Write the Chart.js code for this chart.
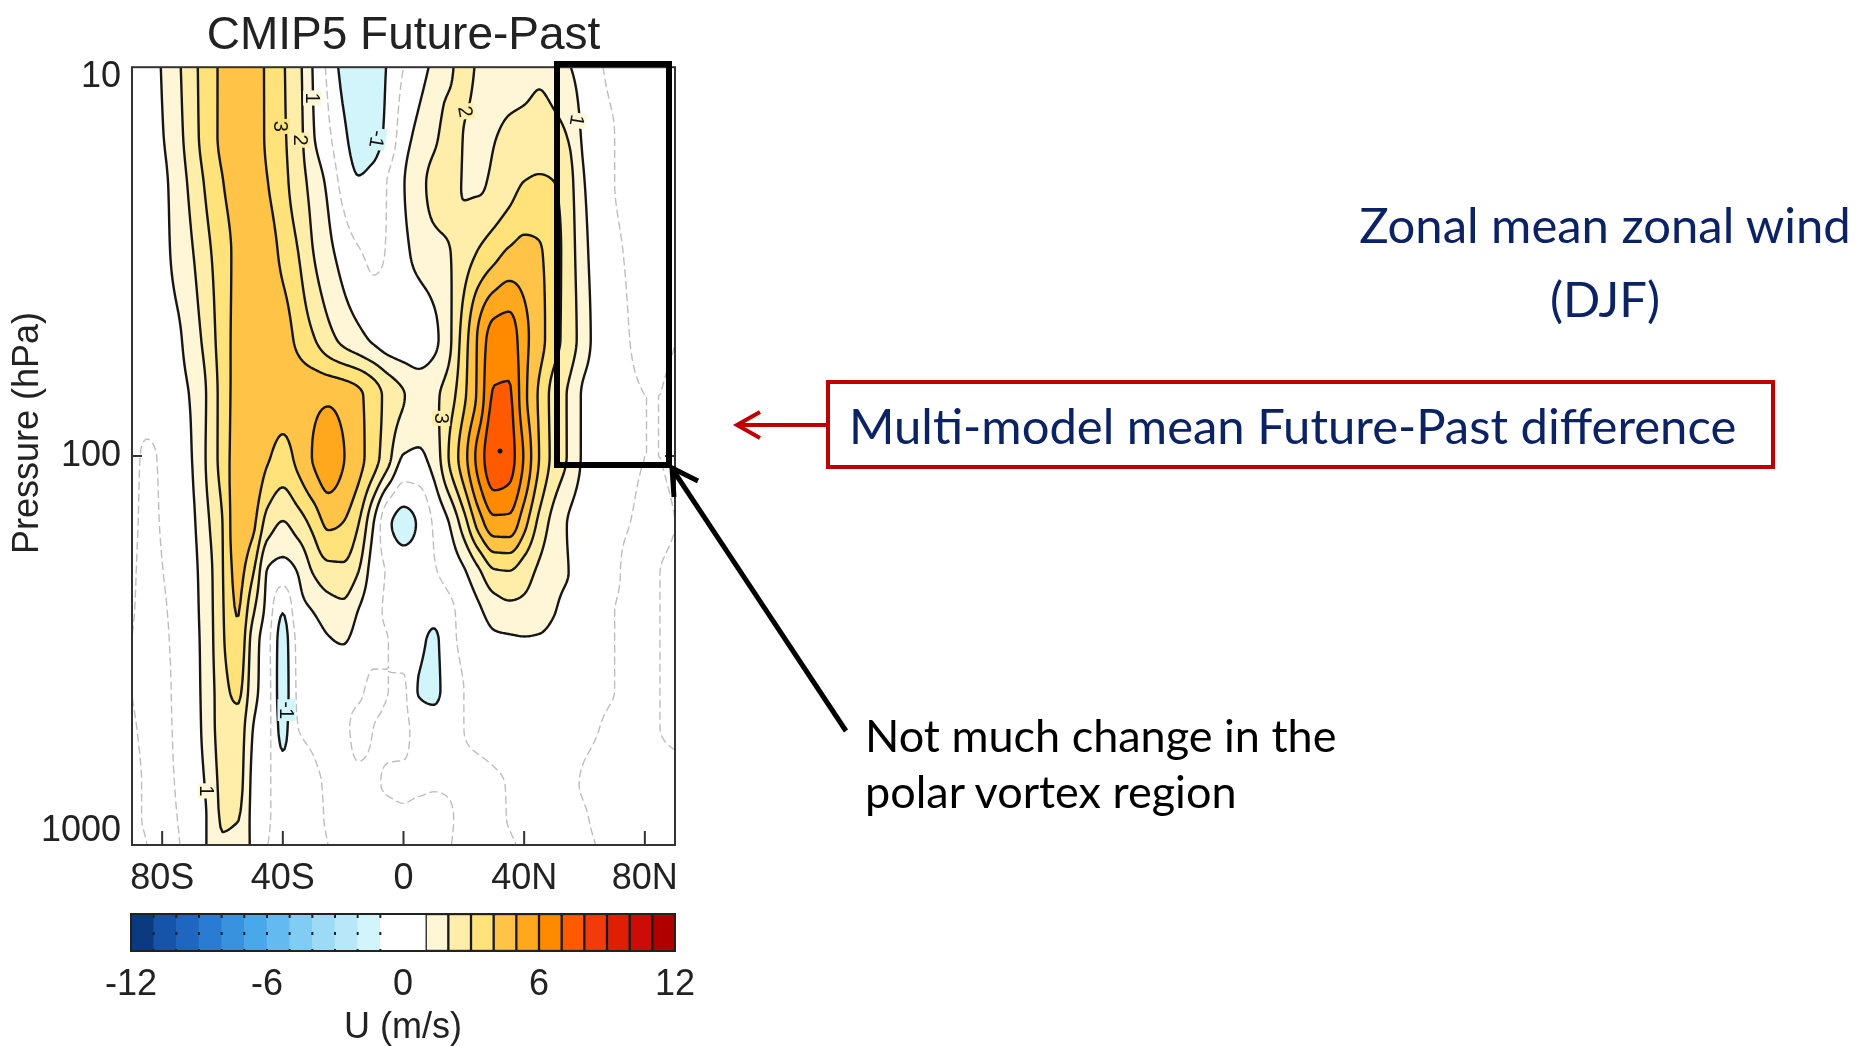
<!DOCTYPE html>
<html>
<head>
<meta charset="utf-8">
<title>CMIP5 Future-Past zonal mean zonal wind (DJF)</title>
<script src="https://cdn.jsdelivr.net/npm/chart.js@4.4.1/dist/chart.umd.min.js"></script>
<style>
  html, body { margin: 0; padding: 0; background: #fff; }
  body { width: 1860px; height: 1046px; position: relative; overflow: hidden; }
  #main { position: absolute; left: 0; top: 0; width: 720px; height: 900px; }
  #cbar { position: absolute; left: 0; top: 900px; width: 720px; height: 146px; }
  #notes { position: absolute; left: 0; top: 0; pointer-events: none; }
  .note { position: absolute; font-family: Lato, 'Open Sans', sans-serif; white-space: nowrap; }
  .navy { color: #0b2265; }
</style>
</head>
<body>
<div id="main"><canvas id="windChart"></canvas></div>
<div id="cbar"><canvas id="barChart"></canvas></div>

<svg id="notes" width="1860" height="1046">
  <rect x="557" y="64" width="112" height="401" fill="none" stroke="#000" stroke-width="6"/>
  <line x1="846" y1="731" x2="673" y2="470" stroke="#000" stroke-width="5"/>
  <polyline points="674,497 672,468 698,481" fill="none" stroke="#000" stroke-width="5" stroke-linejoin="miter"/>
  <rect x="828" y="382" width="945" height="85" fill="none" stroke="#c00000" stroke-width="4"/>
  <line x1="828" y1="425" x2="739" y2="425" stroke="#c00000" stroke-width="4"/>
  <polyline points="760,412 737,425 760,438" fill="none" stroke="#c00000" stroke-width="4"/>
</svg>
<div class="note navy" style="left:1305px; top:187px; width:600px; text-align:center; font-size:49px; line-height:74px;">Zonal mean zonal wind<br>(DJF)</div>
<div class="note navy" style="left:849px; top:395px; font-size:49px; line-height:60px;">Multi-model mean Future-Past difference</div>
<div class="note" style="left:865px; top:707px; font-size:45px; line-height:56px; color:#000;">Not much change in the<br>polar vortex region</div>

<script>
// grid: latitude (deg) x pressure (hPa)
const lats = [-90, -85, -80, -75, -70, -65, -60, -55, -50, -45, -40, -35, -30, -25, -20, -15, -10, -5, 0,
  5, 10, 15, 20, 25, 30, 35, 40, 45, 50, 55, 60, 65, 70, 75, 80, 85, 90];
const levels = [10, 15, 20, 30, 50, 70, 100, 150, 200, 250, 300, 400, 500, 700, 850, 1000];

// U difference (m/s), one row per pressure level, lat -90 .. 90
const u10 = [0.3, 0.6, 1.05, 1.8, 2.7, 3.5, 4.2, 4.6, 4.5, 3.8, 3.1, 2.3, 0.95, -0.2, -1.25, -1.5, -1.4, -0.9, 0.0, 0.6, 1.2, 1.8, 2.3, 1.85, 1.55, 1.5, 1.6, 1.8, 1.55, 1.05, 0.5, 0.05, -0.1, -0.1, -0.1, -0.05, 0.0];
const u15 = [0.35, 0.6, 0.95, 1.65, 2.6, 3.5, 4.2, 4.6, 4.55, 3.8, 3.15, 2.4, 1.1, 0.2, -0.8, -1.35, -1.3, -0.7, 0.6, 1.25, 1.8, 2.3, 1.98, 1.75, 1.95, 2.2, 2.35, 2.45, 2.3, 1.9, 0.75, 0.2, 0.0, -0.1, -0.1, -0.05, 0.0];
const u20 = [0.4, 0.6, 0.8, 1.45, 2.3, 3.2, 3.95, 4.5, 4.6, 4.02, 3.3, 2.5, 1.65, 0.8, -0.3, -0.9, -0.7, 0.1, 0.95, 1.65, 2.25, 2.4, 1.95, 1.9, 2.2, 2.6, 3.05, 3.15, 3.02, 2.3, 1.02, 0.3, 0.0, -0.1, -0.1, -0.05, 0.0];
const u30 = [0.4, 0.6, 0.75, 1.3, 1.95, 2.8, 3.55, 4.25, 4.55, 4.4, 3.75, 3.02, 2.02, 1.3, 0.6, 0.1, -0.2, 0.1, 0.75, 1.3, 1.7, 1.95, 2.5, 3.1, 3.65, 4.15, 4.3, 4.1, 3.4, 2.45, 1.25, 0.4, 0.1, -0.05, -0.1, -0.05, 0.0];
const u50 = [0.3, 0.5, 0.6, 0.85, 1.5, 2.4, 3.5, 4.3, 4.55, 4.5, 4.35, 3.8, 3.1, 2.35, 1.75, 1.3, 0.85, 0.5, 0.4, 0.3, 0.75, 1.75, 3.5, 5.2, 6.5, 6.6, 5.3, 4.4, 3.35, 2.5, 1.45, 0.5, 0.2, 0.0, -0.1, -0.05, 0.0];
const u70 = [0.3, 0.4, 0.5, 0.75, 1.1, 2.1, 3.4, 4.35, 4.55, 4.45, 4.3, 4.45, 4.7, 4.8, 4.6, 4.2, 3.5, 2.65, 2.05, 1.6, 1.8, 2.5, 3.8, 5.3, 7.1, 7.1, 5.3, 3.85, 2.6, 1.85, 0.8, 0.4, 0.15, 0.05, 0.0, 0.0, 0.05];
const u100 = [0.2, -0.1, 0.1, 0.5, 1.02, 2.15, 3.4, 4.45, 4.6, 4.1, 3.7, 4.25, 5.05, 5.55, 5.05, 4.35, 3.45, 2.3, 0.95, 0.85, 1.4, 3.02, 4.6, 6.4, 7.7, 7.4, 5.9, 3.98, 2.65, 1.85, 0.8, 0.4, 0.15, 0.05, 0.0, 0.0, 0.05];
const u150 = [0.15, -0.15, 0.05, 0.45, 0.85, 1.85, 3.0, 4.6, 4.2, 2.5, 1.9, 2.45, 3.25, 4.15, 3.95, 3.02, 1.02, -0.85, -1.3, -0.9, 0.1, 0.95, 2.5, 4.4, 5.6, 5.6, 4.3, 2.7, 1.6, 0.9, 0.4, 0.15, 0.05, 0.0, -0.05, -0.05, 0.0];
const u200 = [0.1, -0.2, -0.02, 0.35, 0.75, 1.6, 2.95, 4.3, 3.1, 0.9, 0.5, 1.02, 2.02, 2.6, 2.7, 1.98, 0.5, -0.1, -0.4, -0.4, -0.1, 0.3, 0.85, 1.8, 2.8, 2.9, 2.4, 1.8, 1.3, 0.98, 0.5, 0.2, 0.05, -0.05, -0.05, 0.0, 0.05];
const u250 = [0.05, -0.2, -0.1, 0.3, 0.7, 1.55, 2.9, 4.05, 2.2, 0.6, -0.95, 0.6, 1.02, 1.5, 1.7, 0.98, 0.3, -0.1, -0.1, -0.3, -0.6, -0.2, 0.3, 0.85, 1.45, 1.7, 1.7, 1.5, 1.05, 0.6, 0.3, 0.1, 0.0, -0.05, -0.05, 0.0, 0.05];
const u300 = [0.0, -0.2, -0.15, 0.25, 0.65, 1.5, 2.85, 3.8, 1.6, 0.3, -1.4, 0.2, 0.5, 0.9, 1.05, 0.6, 0.2, 0.0, -0.2, -0.7, -1.2, -0.3, 0.2, 0.5, 0.8, 0.85, 0.9, 0.85, 0.6, 0.4, 0.2, 0.1, 0.0, -0.05, -0.05, 0.0, 0.05];
const u400 = [0.0, -0.15, -0.2, 0.2, 0.6, 1.45, 2.6, 3.25, 1.4, 0.35, -1.5, 0.1, 0.2, 0.4, 0.3, 0.1, -0.1, 0.0, 0.1, -1.05, -1.25, -0.5, 0.0, 0.2, 0.3, 0.4, 0.4, 0.3, 0.2, 0.15, 0.1, 0.05, 0.0, -0.05, -0.05, 0.0, 0.05];
const u500 = [0.05, -0.1, -0.2, 0.15, 0.55, 1.4, 2.45, 2.6, 1.02, 0.3, -1.3, 0.0, 0.1, 0.2, 0.1, -0.1, 0.0, 0.1, 0.15, -0.3, -0.4, -0.2, 0.0, 0.1, 0.15, 0.2, 0.2, 0.15, 0.1, 0.1, 0.05, 0.0, -0.05, -0.05, -0.05, 0.0, 0.05];
const u700 = [0.1, -0.05, -0.15, 0.05, 0.5, 1.15, 2.25, 2.35, 0.8, 0.15, -0.5, -0.3, -0.1, 0.05, 0.1, 0.1, 0.05, -0.05, -0.1, -0.1, -0.05, -0.05, -0.1, -0.1, -0.05, 0.02, 0.1, 0.15, 0.15, 0.05, -0.02, -0.05, -0.1, -0.1, -0.1, -0.1, -0.1];
const u850 = [0.1, -0.05, -0.15, 0.0, 0.45, 1.05, 2.1, 2.05, 0.75, 0.1, -0.3, -0.3, -0.15, 0.05, 0.15, 0.2, 0.15, 0.15, 0.1, 0.15, 0.15, 0.05, -0.1, -0.15, -0.1, 0.02, 0.1, 0.15, 0.15, 0.1, 0.02, -0.05, -0.1, -0.1, -0.1, -0.1, -0.1];
const u1000 = [0.15, 0.0, -0.2, -0.05, 0.4, 1.05, 1.9, 1.75, 0.8, 0.0, -0.25, -0.3, -0.2, 0.0, 0.15, 0.2, 0.2, 0.2, 0.2, 0.15, 0.1, 0.02, -0.1, -0.15, -0.15, -0.05, 0.05, 0.1, 0.15, 0.1, 0.05, -0.02, -0.1, -0.1, -0.1, -0.1, -0.1];
const uRows = [u10, u15, u20, u30, u50, u70, u100, u150, u200, u250, u300, u400, u500, u700, u850, u1000];

const latTicks = [-80, -40, 0, 40, 80];
const pTicks = [10, 100, 1000];
const jetMax = [{ x: 32, y: 97 }];

// contour labels: lat, pressure, text, rotation (deg)
const contourLabels = [
  { lat: -40.7, p: 14.2, text: '3', rot: 90 },
  { lat: -34.1, p: 15.4, text: '2', rot: 90 },
  { lat: -30.3, p: 12.0, text: '1', rot: 90 },
  { lat: -8.8, p: 15.3, text: '-1', rot: 100 },
  { lat: 20.5, p: 13.0, text: '2', rot: 80 },
  { lat: 57.5, p: 13.7, text: '1', rot: 100 },
  { lat: 12.5, p: 80, text: '3', rot: 90 },
  { lat: -38.8, p: 450, text: '-1', rot: 90 },
  { lat: -65.2, p: 726, text: '1', rot: 90 }
];

// colour scale, 1 m/s bands; white between -1 and 1
const posColors = ['#fff6d8', '#ffeeaa', '#ffe27a', '#ffc447', '#ffa81e', '#ff8a00', '#ff5a00', '#f23a0c', '#e01e06', '#cc0c06', '#b00000'];
const negColors = ['#d2f4fb', '#b8e8f8', '#9cdaf6', '#80ccf3', '#62baf0', '#48a8ea', '#3892e0', '#2a7cd2', '#1e66c0', '#1654aa', '#0c3a80'];
const cbEdges = [-12, -11, -10, -9, -8, -7, -6, -5, -4, -3, -2, -1, 1, 2, 3, 4, 5, 6, 7, 8, 9, 10, 11, 12];

Chart.defaults.font.family = "'Liberation Sans', Arial, sans-serif";
Chart.defaults.color = '#222';

const axisFont = { size: 36 };
const STEP = 2;

function hexRGB(h) {
  return [parseInt(h.slice(1, 3), 16), parseInt(h.slice(3, 5), 16), parseInt(h.slice(5, 7), 16)];
}
const posRGB = posColors.map(hexRGB);
const negRGB = negColors.map(hexRGB);
const WHITE = [255, 255, 255];

function bandRGB(v) {
  if (v >= 1) return posRGB[Math.min(10, Math.floor(v) - 1)];
  if (v <= -1) return negRGB[Math.min(10, Math.floor(-v) - 1)];
  return WHITE;
}
function bandColor(v) {
  const c = bandRGB(v);
  return `rgb(${c[0]},${c[1]},${c[2]})`;
}

// monotone cubic (pchip) helpers
function pchipSlopes(t, v) {
  const n = v.length, d = [], m = new Array(n);
  for (let i = 0; i < n - 1; i++) d.push((v[i + 1] - v[i]) / (t[i + 1] - t[i]));
  m[0] = d[0];
  m[n - 1] = d[n - 2];
  for (let i = 1; i < n - 1; i++) {
    if (d[i - 1] * d[i] <= 0) { m[i] = 0; continue; }
    const h0 = t[i] - t[i - 1], h1 = t[i + 1] - t[i];
    const w1 = 2 * h1 + h0, w2 = h1 + 2 * h0;
    m[i] = (w1 + w2) / (w1 / d[i - 1] + w2 / d[i]);
  }
  return m;
}
function findSeg(t, x) {
  let k = 0;
  while (k < t.length - 2 && x > t[k + 1]) k++;
  return k;
}
function hermite(t, v, m, k, x) {
  const h = t[k + 1] - t[k], s = (x - t[k]) / h, s2 = s * s, s3 = s2 * s;
  return (2 * s3 - 3 * s2 + 1) * v[k] + (s3 - 2 * s2 + s) * h * m[k] +
    (-2 * s3 + 3 * s2) * v[k + 1] + (s3 - s2) * h * m[k + 1];
}

function getField(chart) {
  const { chartArea: a, scales: { x, y } } = chart;
  const left = Math.round(a.left), top = Math.round(a.top);
  const w = Math.round(a.right) - left, h = Math.round(a.bottom) - top;
  const key = [left, top, w, h].join(',');
  if (chart.$uField && chart.$uField.key === key) return chart.$uField;

  const logLev = levels.map(Math.log10);
  const cols = lats.map((_, j) => uRows.map(r => r[j]));
  const colM = cols.map(c => pchipSlopes(logLev, c));
  const xLat = [], xSeg = [];
  for (let i = 0; i < w; i++) {
    const lat = Math.max(-90, Math.min(90, x.getValueForPixel(left + i + 0.5)));
    xLat.push(lat);
    xSeg.push(findSeg(lats, lat));
  }
  const field = new Float32Array(w * h);
  const row = new Array(lats.length);
  const lo = logLev[0], hi = logLev[logLev.length - 1];
  for (let r = 0; r < h; r++) {
    let lp = Math.log10(y.getValueForPixel(top + r + 0.5));
    lp = Math.max(lo, Math.min(hi, lp));
    const k = findSeg(logLev, lp);
    for (let j = 0; j < lats.length; j++) row[j] = hermite(logLev, cols[j], colM[j], k, lp);
    const m = pchipSlopes(lats, row);
    for (let i = 0; i < w; i++) field[r * w + i] = hermite(lats, row, m, xSeg[i], xLat[i]);
  }

  const img = document.createElement('canvas');
  img.width = w; img.height = h;
  const ictx = img.getContext('2d');
  const data = ictx.createImageData(w, h);
  for (let p = 0; p < w * h; p++) {
    const c = bandRGB(field[p]);
    data.data[4 * p] = c[0];
    data.data[4 * p + 1] = c[1];
    data.data[4 * p + 2] = c[2];
    data.data[4 * p + 3] = 255;
  }
  ictx.putImageData(data, 0, 0);

  const nx = Math.floor((w - 1) / STEP) + 1, ny = Math.floor((h - 1) / STEP) + 1;
  chart.$uField = { key, left, top, w, h, field, img, nx, ny };
  return chart.$uField;
}

// marching squares, chained into polylines
function traceLevel(g, level) {
  const { nx, ny } = g;
  const V = (i, j) => g.field[(j * STEP) * g.w + i * STEP];
  const pts = new Map(), segs = [];
  const hPt = (i, j) => {
    const k = 2 * (j * nx + i);
    if (!pts.has(k)) {
      const a = V(i, j), b = V(i + 1, j), t = (level - a) / (b - a);
      pts.set(k, [g.left + (i + t) * STEP + 0.5, g.top + j * STEP + 0.5]);
    }
    return k;
  };
  const vPt = (i, j) => {
    const k = 2 * (j * nx + i) + 1;
    if (!pts.has(k)) {
      const a = V(i, j), b = V(i, j + 1), t = (level - a) / (b - a);
      pts.set(k, [g.left + i * STEP + 0.5, g.top + (j + t) * STEP + 0.5]);
    }
    return k;
  };
  for (let j = 0; j < ny - 1; j++) {
    for (let i = 0; i < nx - 1; i++) {
      const a = V(i, j), b = V(i + 1, j), c = V(i + 1, j + 1), d = V(i, j + 1);
      const idx = (a > level ? 8 : 0) | (b > level ? 4 : 0) | (c > level ? 2 : 0) | (d > level ? 1 : 0);
      if (idx === 0 || idx === 15) continue;
      switch (idx) {
        case 1: case 14: segs.push([vPt(i, j), hPt(i, j + 1)]); break;
        case 2: case 13: segs.push([hPt(i, j + 1), vPt(i + 1, j)]); break;
        case 3: case 12: segs.push([vPt(i, j), vPt(i + 1, j)]); break;
        case 4: case 11: segs.push([hPt(i, j), vPt(i + 1, j)]); break;
        case 6: case 9: segs.push([hPt(i, j), hPt(i, j + 1)]); break;
        case 7: case 8: segs.push([vPt(i, j), hPt(i, j)]); break;
        default: {
          const mid = (a + b + c + d) / 4 > level;
          if ((idx === 5) === mid) {
            segs.push([vPt(i, j), hPt(i, j)]);
            segs.push([hPt(i, j + 1), vPt(i + 1, j)]);
          } else {
            segs.push([hPt(i, j), vPt(i + 1, j)]);
            segs.push([vPt(i, j), hPt(i, j + 1)]);
          }
        }
      }
    }
  }
  const adj = new Map();
  segs.forEach((s, n) => {
    for (const k of s) {
      if (!adj.has(k)) adj.set(k, []);
      adj.get(k).push(n);
    }
  });
  const used = new Uint8Array(segs.length);
  const walk = start => {
    const out = [];
    let key = start;
    for (;;) {
      let next = -1;
      for (const t of adj.get(key)) if (!used[t]) { next = t; break; }
      if (next < 0) break;
      used[next] = 1;
      const [p, q] = segs[next];
      key = p === key ? q : p;
      out.push(key);
    }
    return out;
  };
  const lines = [];
  for (let n = 0; n < segs.length; n++) {
    if (used[n]) continue;
    used[n] = 1;
    const fwd = walk(segs[n][1]);
    const back = walk(segs[n][0]).reverse();
    lines.push(back.concat(segs[n], fwd).map(k => pts.get(k)));
  }
  return lines;
}

function strokeLines(ctx, lines) {
  ctx.beginPath();
  for (const ln of lines) {
    ctx.moveTo(ln[0][0], ln[0][1]);
    for (let i = 1; i < ln.length; i++) ctx.lineTo(ln[i][0], ln[i][1]);
  }
  ctx.stroke();
}

const fieldPlugin = {
  id: 'uField',
  beforeDatasetsDraw(chart) {
    const g = getField(chart);
    const ctx = chart.ctx;
    ctx.save();
    ctx.drawImage(g.img, g.left, g.top);
    ctx.beginPath();
    ctx.rect(g.left, g.top, g.w, g.h);
    ctx.clip();
    ctx.lineJoin = 'round';
    ctx.lineCap = 'round';

    ctx.strokeStyle = '#bdbdbd';
    ctx.lineWidth = 1.4;
    ctx.setLineDash([7, 5]);
    strokeLines(ctx, traceLevel(g, 0));
    ctx.setLineDash([]);

    ctx.strokeStyle = '#161616';
    ctx.lineWidth = 2.4;
    for (let lv = -12; lv <= 12; lv++) {
      if (lv === 0) continue;
      strokeLines(ctx, traceLevel(g, lv));
    }

    const { x, y } = chart.scales;
    ctx.font = "20px 'Liberation Sans', Arial, sans-serif";
    ctx.textAlign = 'center';
    ctx.textBaseline = 'middle';
    for (const lb of contourLabels) {
      const px = x.getPixelForValue(lb.lat), py = y.getPixelForValue(lb.p);
      const fi = Math.round(py - g.top) * g.w + Math.round(px - g.left);
      ctx.save();
      ctx.translate(px, py);
      ctx.rotate(lb.rot * Math.PI / 180);
      const tw = ctx.measureText(lb.text).width;
      ctx.fillStyle = bandColor(g.field[fi]);
      ctx.fillRect(-tw / 2 - 2, -9, tw + 4, 18);
      ctx.fillStyle = '#111';
      ctx.fillText(lb.text, 0, 1);
      ctx.restore();
    }
    ctx.restore();
  },
  afterDatasetsDraw(chart) {
    const { ctx, chartArea: a, scales: { x, y } } = chart;
    ctx.save();
    ctx.strokeStyle = '#333';
    ctx.lineWidth = 2;
    ctx.strokeRect(a.left, a.top, a.right - a.left, a.bottom - a.top);
    ctx.beginPath();
    for (const t of x.ticks) {
      const px = x.getPixelForValue(t.value);
      ctx.moveTo(px, a.bottom);
      ctx.lineTo(px, a.bottom - 14);
    }
    for (const t of y.ticks) {
      const py = y.getPixelForValue(t.value);
      if (py <= a.top + 2 || py >= a.bottom - 2) continue;
      ctx.moveTo(a.left, py);
      ctx.lineTo(a.left + 10, py);
      ctx.moveTo(a.right, py);
      ctx.lineTo(a.right - 10, py);
    }
    ctx.stroke();

    // pressure labels, end labels kept inside the axis span
    ctx.fillStyle = '#222';
    ctx.font = "36px 'Liberation Sans', Arial, sans-serif";
    ctx.textAlign = 'right';
    ctx.textBaseline = 'middle';
    for (const t of y.ticks) {
      let py = y.getPixelForValue(t.value);
      py = Math.max(a.top + 10, Math.min(a.bottom - 14, py));
      ctx.fillText(String(t.value), a.left - 11, py);
    }

    ctx.textAlign = 'center';
    ctx.translate(28, 433);
    ctx.rotate(-Math.PI / 2);
    ctx.fillText('Pressure (hPa)', 0, 0);
    ctx.restore();
  }
};

function latLabel(v) {
  if (v < 0) return (-v) + 'S';
  if (v > 0) return v + 'N';
  return '0';
}

new Chart(document.getElementById('windChart'), {
  type: 'scatter',
  data: {
    datasets: [{
      data: jetMax,
      pointRadius: 2.5,
      pointBackgroundColor: '#111',
      pointBorderWidth: 0
    }]
  },
  options: {
    animation: false,
    responsive: true,
    maintainAspectRatio: false,
    layout: { padding: { left: 0, right: 45, top: 0, bottom: 0 } },
    plugins: {
      legend: { display: false },
      tooltip: { enabled: false },
      title: {
        display: true,
        text: 'CMIP5 Future-Past',
        fullSize: false,
        color: '#222',
        font: { size: 46, weight: 'normal' },
        padding: { top: 9, bottom: 3 }
      }
    },
    scales: {
      x: {
        type: 'linear',
        min: -90,
        max: 90,
        afterBuildTicks: s => { s.ticks = latTicks.map(v => ({ value: v })); },
        afterFit: s => { s.height = 55; },
        ticks: { callback: v => latLabel(v), font: axisFont, color: '#222', padding: 12, maxRotation: 0 },
        grid: { display: false, drawTicks: false },
        border: { display: false }
      },
      y: {
        type: 'logarithmic',
        reverse: true,
        min: 10,
        max: 1000,
        afterBuildTicks: s => { s.ticks = pTicks.map(v => ({ value: v })); },
        afterFit: s => { s.width = 132; },
        ticks: { display: false },
        grid: { display: false, drawTicks: false },
        border: { display: false }
      }
    }
  },
  plugins: [fieldPlugin]
});

// ---- colour bar ----
const cbLo = cbEdges.slice(0, -1);
const cbHi = cbEdges.slice(1);
const cbColors = negColors.slice().reverse().concat(['#ffffff'], posColors);

const cbFrame = {
  id: 'cbFrame',
  afterDatasetsDraw(chart) {
    const { ctx, chartArea: a, scales: { x } } = chart;
    ctx.save();
    ctx.strokeStyle = '#222';
    ctx.lineWidth = 2;
    ctx.setLineDash([3, 14]);
    ctx.beginPath();
    for (const v of cbEdges) {
      if (v <= -12 || v >= 1) continue;
      const px = x.getPixelForValue(v);
      ctx.moveTo(px, a.top + 1);
      ctx.lineTo(px, a.bottom);
    }
    ctx.stroke();
    ctx.setLineDash([]);
    ctx.strokeRect(a.left, a.top, a.right - a.left, a.bottom - a.top);
    ctx.restore();
  }
};

new Chart(document.getElementById('barChart'), {
  type: 'bar',
  data: {
    labels: ['U'],
    datasets: [{
      data: cbLo.map((lo, i) => ({ x: [lo, cbHi[i]], y: 'U' })),
      backgroundColor: cbColors,
      borderColor: cbLo.map(v => (v >= 1 ? '#1a1a1a' : 'rgba(0,0,0,0)')),
      borderWidth: cbLo.map(v => (v >= 1 ? 1.5 : 0)),
      borderSkipped: false,
      barPercentage: 1,
      categoryPercentage: 1
    }]
  },
  options: {
    indexAxis: 'y',
    animation: false,
    responsive: true,
    maintainAspectRatio: false,
    layout: { padding: { left: 131, right: 45, top: 14, bottom: 0 } },
    plugins: { legend: { display: false }, tooltip: { enabled: false } },
    scales: {
      x: {
        type: 'linear',
        min: -12,
        max: 12,
        afterFit: s => { s.height = 95; },
        ticks: { stepSize: 6, font: axisFont, color: '#222', padding: 12, maxRotation: 0 },
        grid: { display: false, drawTicks: false },
        border: { display: false },
        title: { display: true, text: 'U (m/s)', color: '#222', font: { size: 36, lineHeight: 1 }, padding: { top: 0, bottom: 0 } }
      },
      y: { display: false }
    }
  },
  plugins: [cbFrame]
});
</script>
</body>
</html>
